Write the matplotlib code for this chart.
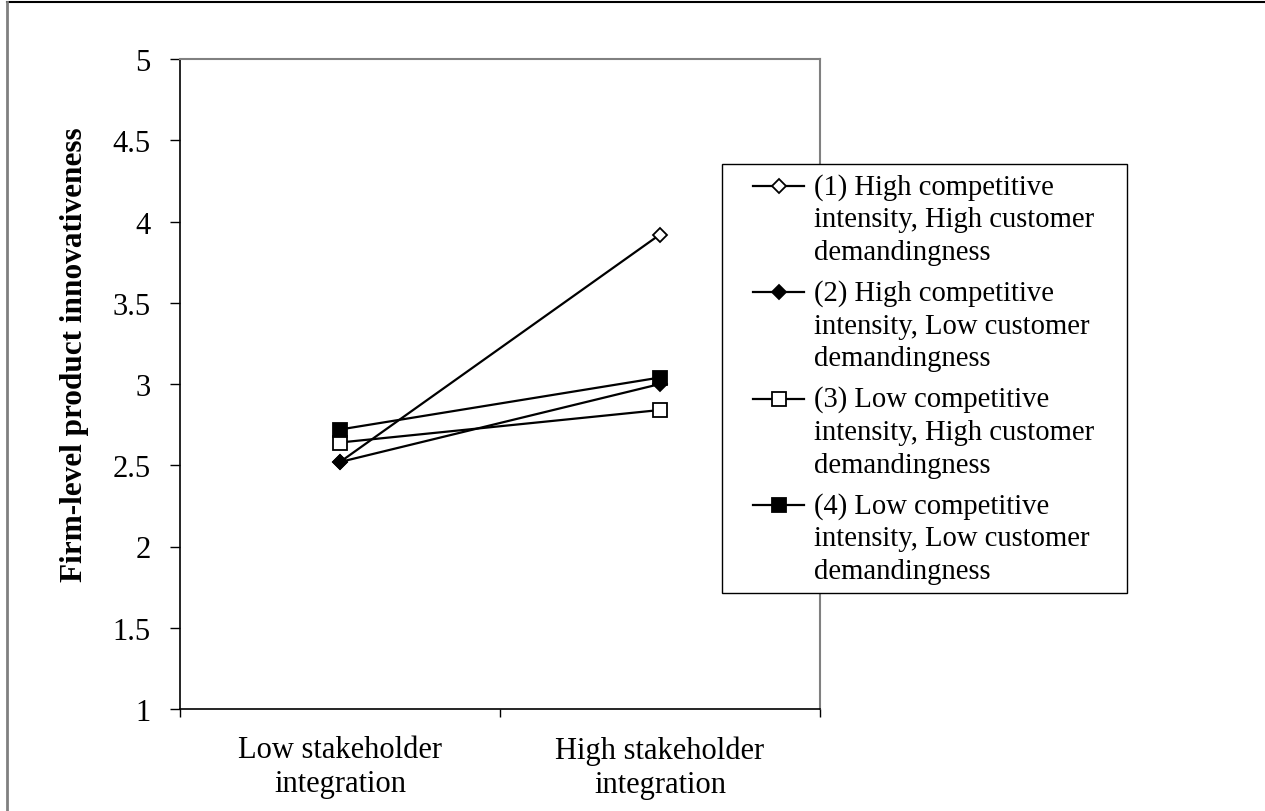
import numpy as np
import matplotlib.pyplot as plt
from matplotlib.lines import Line2D
from matplotlib.legend_handler import HandlerLine2D

plt.rcParams['font.family'] = ['Liberation Serif', 'DejaVu Serif']

# data
categories = ["Low stakeholder\nintegration", "High stakeholder\nintegration"]
series_labels = [
    "(1) High competitive\nintensity, High customer\ndemandingness",
    "(2) High competitive\nintensity, Low customer\ndemandingness",
    "(3) Low competitive\nintensity, High customer\ndemandingness",
    "(4) Low competitive\nintensity, Low customer\ndemandingness",
]
s1 = [2.52, 3.92]
s2 = [2.52, 3.00]
s3 = [2.64, 2.84]
s4 = [2.72, 3.04]
y_ticks = [1, 1.5, 2, 2.5, 3, 3.5, 4, 4.5, 5]
y_ticklabels = ["1", "1.5", "2", "2.5", "3", "3.5", "4", "4.5", "5"]

styles = [
    dict(marker="D", mfc="white", ms=7.2),
    dict(marker="D", mfc="black", ms=7.2),
    dict(marker="s", mfc="white", ms=9.5),
    dict(marker="s", mfc="black", ms=9.5),
]

LEG_FS = 20.6


class TopLineHandler(HandlerLine2D):
    """Legend line aligned with the first line of a multi-line label."""
    def create_artists(self, legend, orig_handle, xdescent, ydescent,
                       width, height, fontsize, trans):
        arts = super().create_artists(legend, orig_handle, xdescent, ydescent,
                                      width, height, fontsize, trans)
        for a in arts:
            a.set_ydata(np.asarray(a.get_ydata()) + 1.15 * fontsize)
        return arts


fig = plt.figure(figsize=(12.65, 8.12), dpi=100)
ax = fig.add_axes([180 / 1265, 1 - 710 / 812, 640 / 1265, 650 / 812])

x = [0.5, 1.5]
lines = []
for vals, lab, st in zip([s1, s2, s3, s4], series_labels, styles):
    ln, = ax.plot(x, vals, color="black", lw=1.6, marker=st["marker"],
                  mfc=st["mfc"], mec="black", mew=1.3, ms=st["ms"], label=lab,
                  clip_on=False)
    lines.append(ln)

ax.set_xlim(0, 2)
ax.set_ylim(1, 5)
ax.set_yticks(y_ticks)
ax.set_yticklabels(y_ticklabels, fontsize=22)
ax.set_xticks([0, 1, 2])
ax.set_xticklabels([])
ax.set_xticks(x, minor=True)
ax.set_xticklabels(categories, minor=True, fontsize=22, linespacing=1.22)
ax.tick_params(axis="x", which="minor", length=0, pad=19)
ax.tick_params(axis="x", which="major", direction="out", length=6, width=1)
ax.tick_params(axis="y", direction="out", length=7, width=1, pad=14)

for side in ["left", "bottom"]:
    ax.spines[side].set_color("black")
    ax.spines[side].set_linewidth(1.2)
for side in ["top", "right"]:
    ax.spines[side].set_color("#808080")
    ax.spines[side].set_linewidth(1.5)

ax.set_ylabel("Firm-level product innovativeness", fontsize=22.5,
              fontweight="bold")
ax.yaxis.set_label_coords(-0.142, 0.546)

top = 1 - 165 / 812
leg = fig.legend(handles=lines, loc="upper left",
                 bbox_to_anchor=(722 / 1265, 0.2, 405 / 1265, top - 0.2),
                 mode="expand", fontsize=LEG_FS, frameon=True, fancybox=False,
                 edgecolor="black", framealpha=1, handlelength=2.55,
                 handletextpad=0.35, labelspacing=0.5, borderpad=0.3,
                 borderaxespad=0,
                 handler_map={Line2D: TopLineHandler(xpad=0.8)})
leg.get_frame().set_linewidth(1.0)
for t in leg.get_texts():
    t.set_linespacing(1.33)

# outer chart border (top in black, left in gray)
fig.add_artist(Line2D([7 / 1265, 1], [1 - 3 / 812, 1 - 3 / 812],
                      transform=fig.transFigure, color="black", lw=1.5))
fig.add_artist(Line2D([7.5 / 1265, 7.5 / 1265], [0, 1 - 3 / 812],
                      transform=fig.transFigure, color="#808080", lw=2))

fig.savefig("out.png", dpi=100)
